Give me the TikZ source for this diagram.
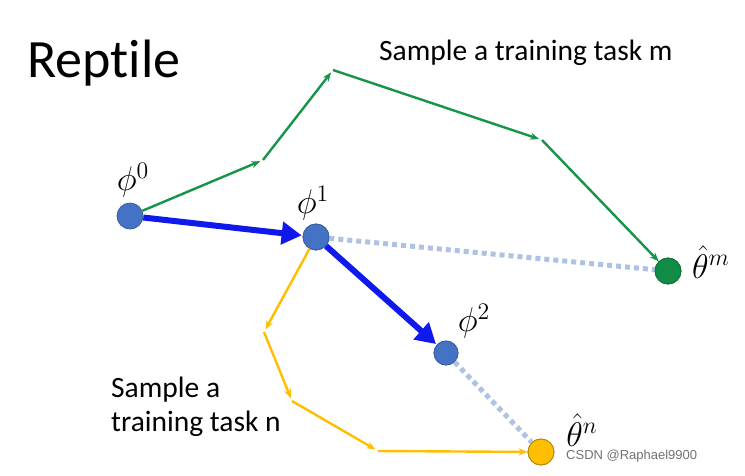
\documentclass[tikz,border=0pt]{standalone}
\usepackage{graphicx}
\usepackage{fontspec}
\setmainfont{Carlito}[Ligatures=NoCommon]
\newfontfamily\wmfont{Liberation Sans}
\usetikzlibrary{arrows.meta}
\definecolor{gline}{RGB}{22,148,72}
\definecolor{oline}{RGB}{255,190,0}
\definecolor{nodeblue}{RGB}{68,114,196}
\definecolor{nodeborder}{RGB}{60,95,160}
\definecolor{barrow}{RGB}{15,25,235}
\definecolor{dotblue}{RGB}{176,194,228}
\definecolor{ndgreen}{RGB}{16,140,70}
\definecolor{ndorange}{RGB}{255,190,0}
\newcommand{\biglab}[1]{\scalebox{1.65}{\fontsize{20.74}{24}\selectfont$#1$}}
\tikzset{
  pt/.style={circle,inner sep=0pt,minimum size=26pt,draw=nodeborder,line width=0.8pt,fill=nodeblue},
  garrow/.style={draw=gline,line width=2.4pt,-{Stealth[length=9pt,width=7pt]},shorten >=3pt},
  oarrow/.style={draw=oline,line width=2.4pt,-{Stealth[length=9pt,width=7pt]},shorten >=3pt},
  barr/.style={draw=barrow,line width=6pt,-{Triangle[length=20pt,width=22pt]},shorten >=1pt},
  dotl/.style={draw=dotblue,line width=5pt,dash pattern=on 5pt off 4pt},
  mlab/.style={inner sep=0pt},
  txt/.style={font=\fontsize{29.5}{34}\selectfont,align=left}
}
\begin{document}
\begin{tikzpicture}[x=1pt,y=-1pt]
\useasboundingbox[fill=white] (0,0) rectangle (745,475);
\node[anchor=west,font=\fontsize{54}{60}\selectfont,inner sep=0pt] (title) at (27,63) {Reptile};
\node[txt,anchor=west,inner sep=0pt] (tm) at (379,53) {Sample a training task m};
\node[txt,anchor=west,inner sep=0pt] (tn) at (111,407) {Sample a\\training task n};

% coordinates of path vertices
\coordinate (g1) at (263,160);
\coordinate (g2) at (333,70);
\coordinate (g3) at (542,140);
\coordinate (o1) at (264,332);
\coordinate (o2) at (292,401);
\coordinate (o3) at (378,451);

\node[pt] (p1) at (316,237) {};
\node[pt,minimum size=24pt] (p2) at (446,353) {};
\node[pt,fill=ndgreen,draw=ndgreen!80!black] (tm0) at (668,271) {};
\node[pt,fill=ndorange,draw=ndorange!70!black] (tn0) at (541,452) {};
% dotted lines
\draw[dotl] (p1) -- (tm0);
\draw[dotl] (p2) -- (tn0);

\node[pt] (p0) at (130,216) {};
% redraw nodes on top
\node[pt] at (p1) {};
\node[pt,minimum size=24pt] at (p2) {};
\node[pt,fill=ndgreen,draw=ndgreen!80!black] at (tm0) {};
\node[pt,fill=ndorange,draw=ndorange!70!black] at (tn0) {};

% green path
\draw[garrow] (p0) -- (g1);
\draw[garrow] (g1) -- (g2);
\draw[garrow] (g2) -- (g3);
\draw[garrow,shorten >=0pt] (g3) -- (tm0);

% orange path
\draw[oarrow] (p1) -- (o1);
\draw[oarrow] (o1) -- (o2);
\draw[oarrow] (o2) -- (o3);
\draw[oarrow,shorten >=0pt] (o3) -- (tn0);

% blue arrows
\draw[barr] (p0) -- (p1);
\draw[barr] (p1) -- (p2);

% labels
\node[mlab] (l0) at (133,180) {\biglab{\phi^0}};
\node[mlab] (l1) at (313,203) {\biglab{\phi^1}};
\node[mlab] (l2) at (474,321) {\biglab{\phi^2}};
\node[mlab] (lm) at (711,262) {\biglab{\hat\theta^m}};
\node[mlab] (ln) at (582,430) {\biglab{\hat\theta^n}};

\node[font=\wmfont\fontsize{13}{15}\selectfont,text=black!55,anchor=west,inner sep=0pt] (wm) at (566,456) {CSDN @Raphael9900};
\end{tikzpicture}
\end{document}
